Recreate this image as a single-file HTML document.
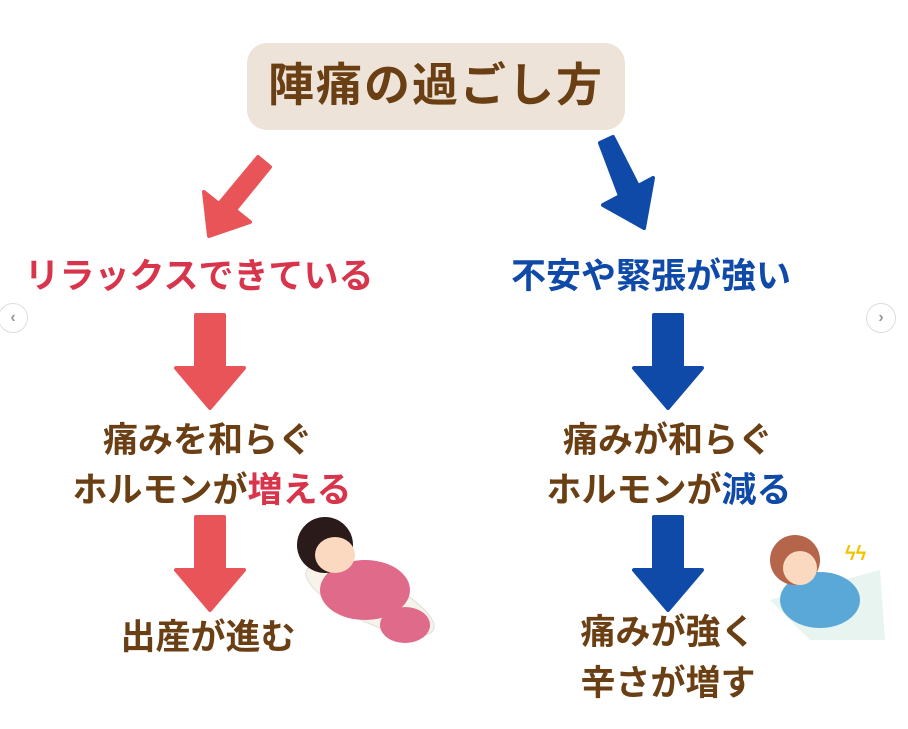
<!DOCTYPE html>
<html><head><meta charset="utf-8"><style>
body{margin:0;width:908px;height:729px;background:#fff;position:relative;overflow:hidden;font-family:"Liberation Sans","Noto Sans CJK JP",sans-serif;font-weight:bold}
.t{position:absolute;white-space:nowrap;text-align:center;transform:translateX(-50%);line-height:1}
.br{color:#6b3f14}.rd{color:#d8344c}.bl{color:#0f4aa8}
.nav{position:absolute;width:28px;height:28px;border-radius:50%;background:#fff;border:1px solid #ddd;color:#999;font-size:16px;line-height:28px;text-align:center}
</style></head><body>
<div style="position:absolute;left:247px;top:43px;width:378px;height:87px;background:#ede3d9;border-radius:20px"></div>
<div class="t br" style="left:436px;top:62px;font-size:46px;letter-spacing:2px">陣痛の過ごし方</div>
<svg width="908" height="729" style="position:absolute;left:0;top:0">
<g fill="#e85458" stroke="#e85458" stroke-linejoin="round" stroke-width="4">
<polygon points="258,157 270,167 235,210 250,222 209,236 204,192 219,204"/>
<polygon points="196,315 224,315 224,368 244,368 210,408 176,368 196,368"/>
<polygon points="196,517 224,517 224,570 244,570 210,610 176,570 196,570"/>
</g>
<g fill="#0f4aa8" stroke="#0f4aa8" stroke-linejoin="round" stroke-width="4">
<polygon points="600,143 613,137 638,186 653,178 644,228 603,205 620,196"/>
<polygon points="654,315 682,315 682,368 702,368 668,408 634,368 654,368"/>
<polygon points="654,517 682,517 682,570 702,570 668,610 634,570 654,570"/>
</g>
<ellipse cx="370" cy="600" rx="70" ry="22" transform="rotate(25 370 600)" fill="#f7f3ea" stroke="#ddd"/>
<ellipse cx="365" cy="590" rx="45" ry="30" fill="#e06a8a"/>
<ellipse cx="405" cy="625" rx="25" ry="18" fill="#e06a8a"/>
<circle cx="325" cy="545" r="28" fill="#2a1a1a"/>
<ellipse cx="335" cy="555" rx="20" ry="18" fill="#fbd9c0"/>
<polygon points="770,600 880,570 885,640 810,640" fill="#e8f4f0"/>
<ellipse cx="820" cy="600" rx="40" ry="28" fill="#5aa8d8"/>
<circle cx="795" cy="560" r="25" fill="#b5654a"/>
<ellipse cx="800" cy="568" rx="17" ry="17" fill="#fbd9c0"/>
<text x="845" y="560" fill="#f2c400" font-size="20">ϟϟ</text>
</svg>
<div class="t rd" style="left:199px;top:259px;font-size:35px">リラックスできている</div>
<div class="t bl" style="left:651px;top:259px;font-size:35px">不安や緊張が強い</div>
<div class="t br" style="left:208px;top:423px;font-size:35px">痛みを和らぐ</div>
<div class="t br" style="left:212px;top:473px;font-size:35px">ホルモンが<span class="rd">増える</span></div>
<div class="t br" style="left:208px;top:620px;font-size:35px">出産が進む</div>
<div class="t br" style="left:668px;top:423px;font-size:35px">痛みが和らぐ</div>
<div class="t br" style="left:669px;top:473px;font-size:35px">ホルモンが<span class="bl">減る</span></div>
<div class="t br" style="left:668px;top:615px;font-size:35px">痛みが強く</div>
<div class="t br" style="left:668px;top:666px;font-size:35px">辛さが増す</div>
<div class="nav" style="left:-2px;top:303px">‹</div>
<div class="nav" style="left:866px;top:303px">›</div>
</body></html>
